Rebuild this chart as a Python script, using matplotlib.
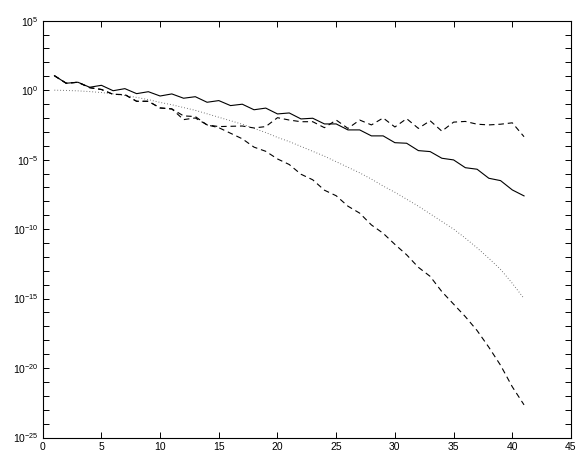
import numpy as np
import matplotlib
matplotlib.use("Agg")
import matplotlib.pyplot as plt
from matplotlib.ticker import FixedLocator, FuncFormatter

plt.rcParams['font.family'] = ['Liberation Sans', 'DejaVu Sans']
plt.rcParams['mathtext.fontset'] = 'custom'
plt.rcParams['mathtext.rm'] = 'Liberation Sans'
plt.rcParams['mathtext.it'] = 'Liberation Sans'
plt.rcParams['mathtext.default'] = 'regular'

# x positions (iteration index)
x_vals = list(range(1, 42))

# log10 of plotted values
solid_log10 = [1.04, 0.5, 0.57, 0.21, 0.35, -0.04, 0.11, -0.25, -0.11, -0.42,
               -0.27, -0.58, -0.47, -0.87, -0.75, -1.11, -1.01, -1.41, -1.29, -1.71,
               -1.64, -2.07, -2.02, -2.43, -2.43, -2.86, -2.86, -3.29, -3.29, -3.78,
               -3.82, -4.35, -4.42, -4.9, -5.02, -5.58, -5.69, -6.34, -6.51, -7.18,
               -7.61]
dotted_log10 = [0.0, -0.02, -0.05, -0.1, -0.17, -0.27, -0.38, -0.52, -0.68, -0.88,
                -1.05, -1.25, -1.45, -1.7, -1.95, -2.2, -2.45, -2.75, -3.05, -3.4,
                -3.7, -4.05, -4.4, -4.75, -5.15, -5.55, -5.95, -6.4, -6.9, -7.35,
                -7.85, -8.35, -8.9, -9.45, -10.0, -10.65, -11.35, -12.1, -12.9, -13.9,
                -15.0]
dashed_steep_log10 = [1.04, 0.5, 0.57, 0.18, 0.05, -0.3, -0.32, -0.8, -0.8, -1.28,
                      -1.35, -2.12, -2.0, -2.5, -2.7, -3.1, -3.5, -4.1, -4.4, -4.95,
                      -5.35, -6.05, -6.45, -7.2, -7.6, -8.35, -8.85, -9.7, -10.3, -11.1,
                      -11.85, -12.75, -13.4, -14.5, -15.4, -16.3, -17.3, -18.5, -19.8, -21.35,
                      -22.65]
dashed_flat_log10 = [1.04, 0.5, 0.57, 0.18, 0.05, -0.3, -0.32, -0.8, -0.8, -1.28,
                     -1.35, -1.85, -1.9, -2.5, -2.62, -2.6, -2.58, -2.72, -2.62, -1.98,
                     -2.15, -2.27, -2.27, -2.7, -2.15, -2.75, -2.15, -2.5, -2.0, -2.65,
                     -2.05, -2.75, -2.2, -2.95, -2.3, -2.25, -2.45, -2.5, -2.45, -2.35,
                     -3.35]

x_ticks = [0, 5, 10, 15, 20, 25, 30, 35, 40, 45]
y_major_exps = [-25, -20, -15, -10, -5, 0, 5]

fig = plt.figure(figsize=(5.77, 4.54), dpi=100)
ax = fig.add_axes([0.074, 0.0363, 0.9156, 0.9181])

x = np.array(x_vals)
ax.semilogy(x, 10.0 ** np.array(solid_log10), color='black', lw=0.8, ls='-')
ax.semilogy(x, 10.0 ** np.array(dotted_log10), color='0.35', lw=0.7, ls=(0, (0.8, 2.2)))
ax.semilogy(x, 10.0 ** np.array(dashed_steep_log10), color='black', lw=0.8, ls=(0, (5, 3.5)))
ax.semilogy(x, 10.0 ** np.array(dashed_flat_log10), color='black', lw=0.8, ls=(0, (5, 3.5)))

ax.set_xlim(0, 45)
ax.set_ylim(1e-25, 1e5)
ax.set_xticks(x_ticks)
ax.set_xticklabels([str(t) for t in x_ticks])
ax.yaxis.set_major_locator(FixedLocator([10.0 ** e for e in y_major_exps]))
ax.yaxis.set_minor_locator(FixedLocator([10.0 ** e for e in range(-25, 6)]))
ax.yaxis.set_major_formatter(FuncFormatter(lambda v, p: r'$10^{%d}$' % int(round(np.log10(v)))))
ax.yaxis.set_minor_formatter(FuncFormatter(lambda v, p: ''))

ax.tick_params(which='both', direction='in', top=True, right=True, length=4, width=0.7,
               labelsize=7.5, pad=3)
ax.tick_params(axis='x', which='minor', bottom=False, top=False)
for s in ax.spines.values():
    s.set_linewidth(0.8)

fig.savefig('out.png', dpi=100)
